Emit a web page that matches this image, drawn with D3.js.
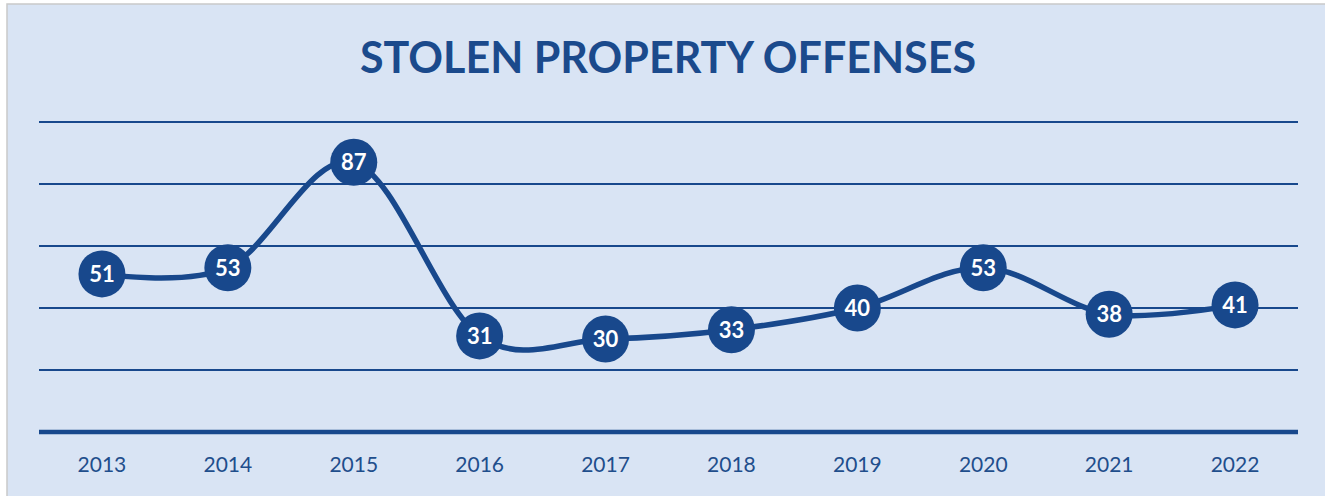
<!DOCTYPE html>
<html>
<head>
  <script src="https://cdn.jsdelivr.net/npm/d3@7/dist/d3.min.js"></script>
  <title>Stolen Property Offenses</title>
  <style>
    body { margin: 0; background: #ffffff; }
    svg { display: block; }
    .title { font-family: Lato, "Open Sans", sans-serif; font-weight: bold; font-size: 43px; fill: #1b4a8c; }
    .year { font-family: Lato, "Open Sans", sans-serif; font-size: 21px; fill: #1f4e8c; }
    .val { font-family: Lato, "Open Sans", sans-serif; font-weight: bold; font-size: 22px; fill: #ffffff; }
  </style>
</head>
<body>
<script>
  // data
  var years = ["2013", "2014", "2015", "2016", "2017", "2018", "2019", "2020", "2021", "2022"];
  var offenses = [51, 53, 87, 31, 30, 33, 40, 53, 38, 41];
  var gridTicks = [20, 40, 60, 80, 100];

  var W = 1325, H = 496;
  var blue = "#18488c";
  var plotLeft = 39, plotRight = 1298, plotTop = 122, plotBottom = 432;

  var svg = d3.select("body").append("svg").attr("width", W).attr("height", H);

  svg.append("rect")
    .attr("x", 7).attr("y", 4).attr("width", W).attr("height", H)
    .attr("fill", "#d9e4f4").attr("stroke", "#c9c9c9").attr("stroke-width", 1.5);

  svg.append("text").attr("class", "title")
    .attr("x", 668).attr("y", 73).attr("text-anchor", "middle")
    .text("STOLEN PROPERTY OFFENSES");

  var x = d3.scaleBand().domain(years).range([plotLeft, plotRight]);
  var y = d3.scaleLinear().domain([0, 100]).range([plotBottom, plotTop]);

  // gridlines
  svg.selectAll(".grid").data(gridTicks).enter().append("line")
    .attr("x1", plotLeft).attr("x2", plotRight)
    .attr("y1", function(d) { return y(d); }).attr("y2", function(d) { return y(d); })
    .attr("stroke", blue).attr("stroke-width", 2);

  // baseline
  svg.append("line")
    .attr("x1", plotLeft).attr("x2", plotRight).attr("y1", y(0)).attr("y2", y(0))
    .attr("stroke", blue).attr("stroke-width", 4.5);

  // year labels
  svg.selectAll(".year").data(years).enter().append("text")
    .attr("class", "year")
    .attr("x", function(d) { return x(d) + x.bandwidth() / 2; })
    .attr("y", 472).attr("text-anchor", "middle")
    .text(function(d) { return d; });

  var cx = function(d, i) { return x(years[i]) + x.bandwidth() / 2; };

  var line = d3.line()
    .x(cx)
    .y(function(d) { return y(d); })
    .curve(d3.curveCatmullRom.alpha(0));

  svg.append("path").datum(offenses)
    .attr("d", line)
    .attr("fill", "none").attr("stroke", blue).attr("stroke-width", 5.5)
    .attr("stroke-linecap", "round");

  svg.selectAll(".dot").data(offenses).enter().append("circle")
    .attr("cx", cx).attr("cy", function(d) { return y(d); })
    .attr("r", 23.5).attr("fill", blue);

  svg.selectAll(".val").data(offenses).enter().append("text")
    .attr("class", "val")
    .attr("x", cx).attr("y", function(d) { return y(d) + 8; })
    .attr("text-anchor", "middle")
    .text(function(d) { return d; });
</script>
</body>
</html>
